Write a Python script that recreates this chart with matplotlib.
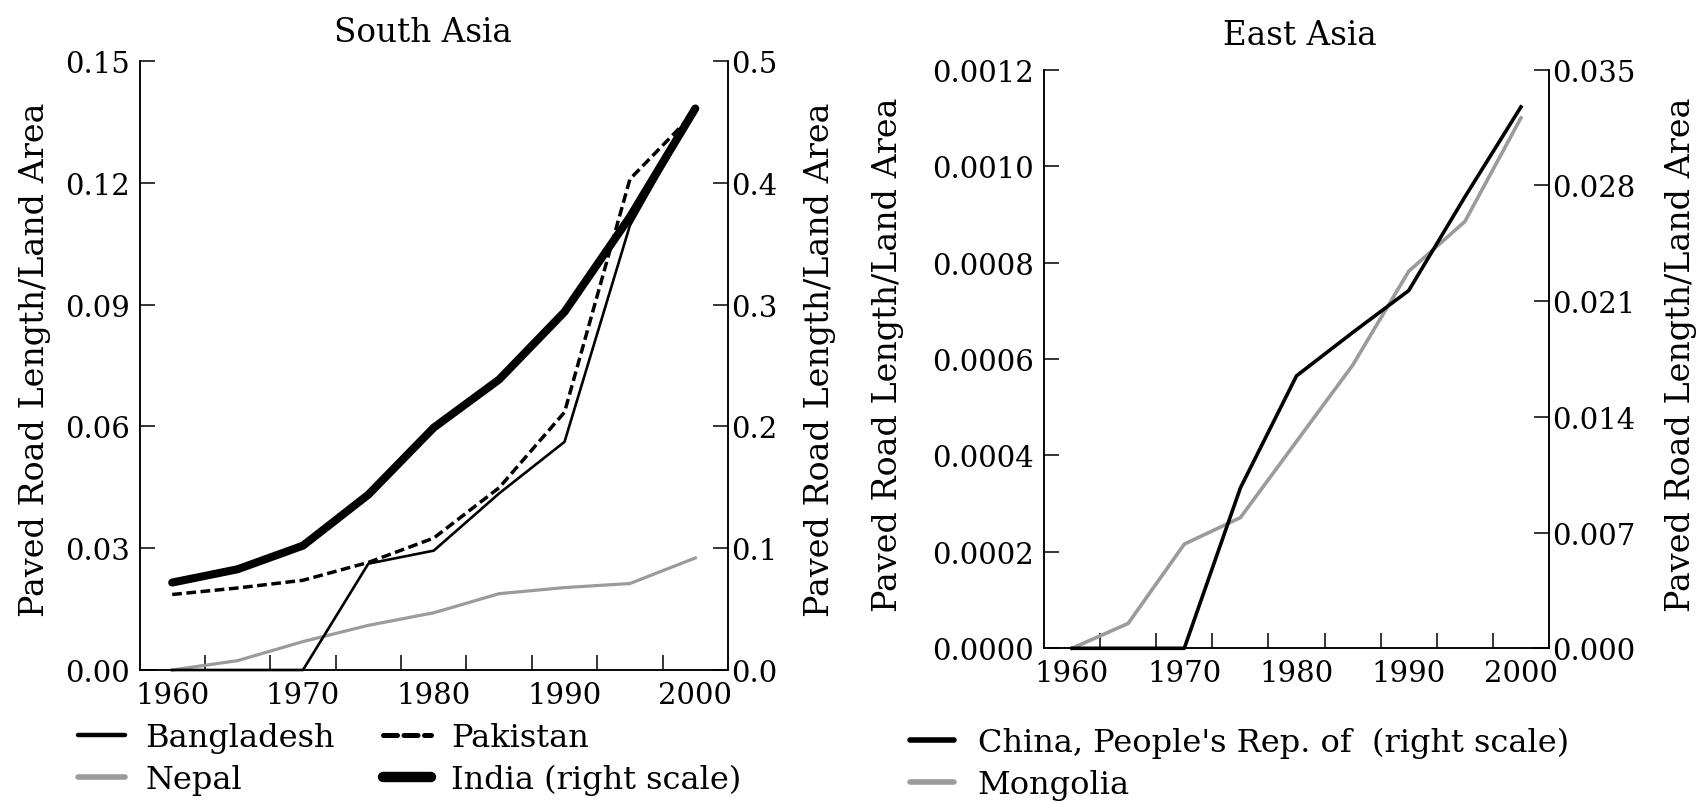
import matplotlib
matplotlib.use("Agg")
import matplotlib.pyplot as plt

# ---------------- data ----------------
years = [1960, 1965, 1970, 1975, 1980, 1985, 1990, 1995, 2000]
label_years = [1960, 1970, 1980, 1990, 2000]

bangladesh = [0.0, 0.0, 0.0, 0.0262, 0.0294, 0.0435, 0.0562, 0.1095, 0.1380]
pakistan = [0.0186, 0.0202, 0.0221, 0.0265, 0.0325, 0.0449, 0.0635, 0.1209, 0.1375]
nepal = [0.0, 0.0023, 0.0070, 0.0110, 0.0141, 0.0188, 0.0203, 0.0213, 0.0276]
india = [0.0718, 0.0827, 0.1021, 0.1440, 0.1990, 0.2385, 0.2940, 0.3720, 0.4610]

china = [0.0, 0.0, 0.0, 0.0097, 0.01648, 0.0191, 0.02164, 0.0273, 0.03275]
mongolia = [0.0, 0.0000516, 0.000216, 0.000271, 0.000429, 0.000587, 0.000782, 0.000885, 0.00110]

sa_left_ticks = [0.00, 0.03, 0.06, 0.09, 0.12, 0.15]
sa_right_ticks = [0.0, 0.1, 0.2, 0.3, 0.4, 0.5]
ea_left_ticks = [0.0, 0.0002, 0.0004, 0.0006, 0.0008, 0.0010, 0.0012]
ea_right_ticks = [0.0, 0.007, 0.014, 0.021, 0.028, 0.035]

ylabel_text = "Paved Road Length/Land Area"

# ---------------- style ----------------
plt.rcParams['font.family'] = ['DejaVu Serif']
FIG_W, FIG_H = 1703, 804
TICK_FS = 21
LEG_FS = 23
TITLE_FS = 23.5
YLAB_FS = 24
GRAY = '#9b9b9b'

fig = plt.figure(figsize=(FIG_W / 100, FIG_H / 100), dpi=100)


def px_rect(x0, y0, x1, y1):
    return [x0 / FIG_W, 1 - y1 / FIG_H, (x1 - x0) / FIG_W, (y1 - y0) / FIG_H]


def style_pair(ax, axr, lt, rt, lfmt, rfmt):
    ax.set_xlim(1957.5, 2002.5)
    ax.set_ylim(lt[0], lt[-1])
    axr.set_ylim(rt[0], rt[-1])
    for a in (ax, axr):
        a.spines['top'].set_visible(False)
        for s in a.spines.values():
            s.set_linewidth(1.1)
    minor = [y + 2.5 for y in years[:-1]]
    ax.set_xticks(label_years)
    ax.set_xticklabels([str(y) for y in label_years])
    ax.set_xticks(minor, minor=True)
    ax.tick_params(axis='x', which='major', length=0, pad=8, labelsize=TICK_FS)
    ax.tick_params(axis='x', which='minor', direction='in', length=11, width=1.1)
    ax.set_yticks(lt)
    ax.set_yticklabels([lfmt % v for v in lt])
    ax.tick_params(axis='y', direction='in', length=10.5, width=1.1, pad=7,
                   labelsize=TICK_FS)
    axr.set_yticks(rt)
    axr.set_yticklabels([rfmt % v for v in rt])
    axr.tick_params(axis='y', direction='in', length=10.5, width=1.1, pad=2.5,
                    labelsize=TICK_FS)


# ---------------- South Asia ----------------
ax1 = fig.add_axes(px_rect(139.5, 62, 728, 671))
ax1r = ax1.twinx()
style_pair(ax1, ax1r, sa_left_ticks, sa_right_ticks, '%.2f', '%.1f')

l_nep, = ax1.plot(years, nepal, color=GRAY, lw=2.3, label='Nepal', clip_on=False)
l_pak, = ax1.plot(years, pakistan, color='black', lw=2.5, ls=(0, (2.8, 1.3)),
                  label='Pakistan', clip_on=False)
l_ban, = ax1.plot(years, bangladesh, color='black', lw=1.9, label='Bangladesh',
                  clip_on=False)
l_ind, = ax1r.plot(years, india, color='black', lw=5.8, label='India (right scale)',
                   solid_capstyle='round', clip_on=False)

fig.text(423 / FIG_W, 1 - 42 / FIG_H, 'South Asia', ha='center', va='baseline',
         fontsize=TITLE_FS)
fig.text(35 / FIG_W, 1 - 360 / FIG_H, ylabel_text, rotation=90, ha='center',
         va='center', fontsize=YLAB_FS)
fig.text(820 / FIG_W, 1 - 360 / FIG_H, ylabel_text, rotation=90, ha='center',
         va='center', fontsize=YLAB_FS)

leg1 = fig.legend([l_ban, l_nep, l_pak, l_ind],
                  ['Bangladesh', 'Nepal', 'Pakistan', 'India (right scale)'],
                  ncol=2, loc='upper left',
                  bbox_to_anchor=(77.5 / FIG_W, 1 - 723 / FIG_H),
                  frameon=False, fontsize=LEG_FS, borderpad=0, borderaxespad=0,
                  handlelength=1.5, handletextpad=0.63, columnspacing=1.5,
                  labelspacing=0.34)
for h, w in zip(leg1.get_lines(), [3.2, 4.0, 3.6, 7.5]):
    h.set_linewidth(w)
    h.set_solid_capstyle('round')
    h.set_dash_capstyle('round')

# ---------------- East Asia ----------------
ax2 = fig.add_axes(px_rect(1044, 70.7, 1549, 649.3))
ax2r = ax2.twinx()
style_pair(ax2, ax2r, ea_left_ticks, ea_right_ticks, '%.4f', '%.3f')

l_mon, = ax2.plot(years, mongolia, color=GRAY, lw=2.6, label='Mongolia', clip_on=False)
l_chi, = ax2r.plot(years, china, color='black', lw=2.6,
                   label="China, People's Rep. of  (right scale)", clip_on=False)

fig.text(1300 / FIG_W, 1 - 45 / FIG_H, 'East Asia', ha='center', va='baseline',
         fontsize=TITLE_FS)
fig.text(888 / FIG_W, 1 - 355 / FIG_H, ylabel_text, rotation=90, ha='center',
         va='center', fontsize=YLAB_FS)
fig.text(1681 / FIG_W, 1 - 355 / FIG_H, ylabel_text, rotation=90, ha='center',
         va='center', fontsize=YLAB_FS)

leg2 = fig.legend([l_chi, l_mon],
                  ["China, People's Rep. of  (right scale)", 'Mongolia'],
                  ncol=1, loc='upper left',
                  bbox_to_anchor=(910 / FIG_W, 1 - 728 / FIG_H),
                  frameon=False, fontsize=LEG_FS, borderpad=0, borderaxespad=0,
                  handlelength=1.39, handletextpad=0.73, labelspacing=0.34)
for h in leg2.get_lines():
    h.set_linewidth(4.0)
    h.set_solid_capstyle('round')

fig.savefig('out.png', dpi=100)
